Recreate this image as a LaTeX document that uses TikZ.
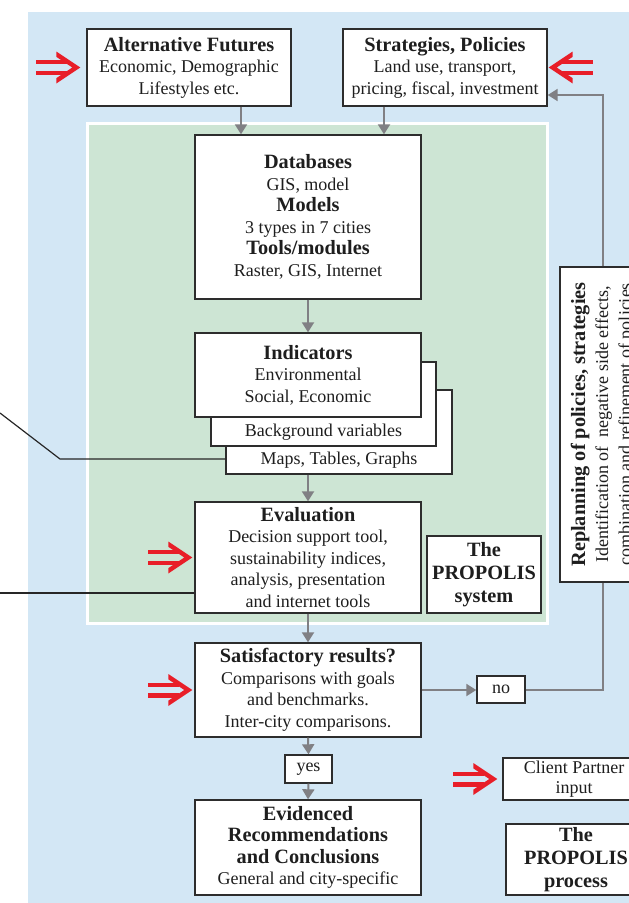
\documentclass[tikz,border=0pt]{standalone}
\usepackage{fontspec}
\setmainfont{Liberation Serif}
\usetikzlibrary{arrows.meta}
\definecolor{bluebg}{RGB}{211,231,245}
\definecolor{greenbg}{RGB}{205,229,212}
\definecolor{redar}{RGB}{232,30,40}
\definecolor{grayar}{RGB}{128,128,132}
\definecolor{boxline}{RGB}{45,45,45}
\definecolor{txt}{RGB}{30,30,30}
\newcommand\hd[1]{{\fontsize{20.3}{22}\selectfont\bfseries #1}}
\begin{document}
\begin{tikzpicture}[x=1pt,y=-1pt,
  box/.style={draw=boxline, line width=1.4pt, fill=white, inner sep=0pt, align=center,
    text=txt, font=\fontsize{18}{21.5}\selectfont},
  boldbox/.style={box, font=\fontsize{20.3}{23}\selectfont\bfseries},
  lbl/.style={inner sep=0pt, text=txt, font=\fontsize{18}{21.5}\selectfont},
  arr/.style={draw=grayar, line width=2pt, -{Triangle[width=12pt,length=10pt]}},
  conn/.style={draw=grayar, line width=2pt},
  blk/.style={draw=black!85, line width=1.2pt},
  redarrow/.pic={
    \fill[redar] (-44,-7.5) rectangle (-13,-3.2);
    \fill[redar] (-44,3.2) rectangle (-13,7.5);
    \fill[redar] (0,0) -- (-24,-16) -- (-24,-10.7) -- (-8,0) -- (-24,10.7) -- (-24,16) -- cycle;
  }
]
\path[use as bounding box] (0,0) rectangle (629,903);
\clip (0,0) rectangle (629,903);

% backgrounds
\fill[bluebg] (28,12) rectangle (660,920);
\filldraw[fill=greenbg, draw=white, line width=3pt] (87,123) rectangle (547,623);

% boxes
\node[box, minimum width=204pt, minimum height=77pt] (alt) at (189,67.5)
  {\hd{Alternative Futures}\\Economic, Demographic\\Lifestyles etc.};
\node[box, minimum width=204pt, minimum height=77pt] (strat) at (445,67.5)
  {\hd{Strategies, Policies}\\Land use, transport,\\pricing, fiscal, investment};
\node[box, minimum width=226pt, minimum height=164pt] (db) at (308,217)
  {\hd{Databases}\\GIS, model\\\hd{Models}\\3 types in 7 cities\\\hd{Tools/modules}\\Raster, GIS, Internet};

\node[box, minimum width=226pt, minimum height=84pt] (maps) at (339,432) {};
\node[lbl] (mapst) at (339,460) {Maps, Tables, Graphs};
\node[box, minimum width=225pt, minimum height=84pt] (bgv) at (323.5,404) {};
\node[lbl] (bgvt) at (323.5,432) {Background variables};
\node[box, minimum width=226pt, minimum height=84pt] (ind) at (308,375)
  {\hd{Indicators}\\Environmental\\Social, Economic};

\node[box, minimum width=226pt, minimum height=111pt] (eval) at (308,557.5)
  {\hd{Evaluation}\\Decision support tool,\\sustainability indices,\\analysis, presentation\\and internet tools};
\node[boldbox, minimum width=114pt, minimum height=77pt] (sys) at (484,574.5)
  {The\\PROPOLIS\\system};

\node[box, minimum width=226pt, minimum height=94pt] (sat) at (308,690)
  {\hd{Satisfactory results?}\\Comparisons with goals\\and benchmarks.\\Inter-city comparisons.};
\node[box, minimum width=48pt, minimum height=27pt] (no) at (501,689.5) {no};
\node[box, minimum width=47pt, minimum height=28pt] (yes) at (308.5,769) {yes};
\node[box, minimum width=226pt, minimum height=95pt] (evid) at (308,847.5)
  {\hd{Evidenced}\\\hd{Recommendations}\\\hd{and Conclusions}\\General and city-specific};

\node[box, minimum width=142pt, minimum height=42pt, font=\fontsize{18}{20}\selectfont] (client) at (574,779)
  {Client Partner\\input};
\node[boldbox, minimum width=140pt, minimum height=71pt] (proc) at (576,859.5)
  {The\\PROPOLIS\\process};

\node[box, rotate=90, minimum width=315pt, minimum height=86pt, font=\fontsize{18}{23}\selectfont] (replan) at (603,424.5)
  {{\fontsize{20.3}{23}\selectfont\bfseries Replanning of policies, strategies}\\Identification of\ \ negative side effects,\\combination and refinement of policies};

% connectors
\coordinate (a1) at ([xshift=-67pt]db.north);
\coordinate (a2) at ([xshift=76pt]db.north);
\draw[arr] (a1 |- alt.south) -- (a1);
\draw[arr] (a2 |- strat.south) -- (a2);
\draw[arr] (db.south) -- (ind.north);
\draw[arr] (eval.north |- maps.south) -- (eval.north);
\draw[arr] (eval.south) -- (sat.north);
\draw[arr] (sat.south) -- (yes.north);
\draw[arr] (yes.south) -- (evid.north);
\draw[arr] (sat.east) -- (sat.east -| no.west);
\draw[conn] (no.east) -| (replan.west);
\draw[arr] (replan.east) |- ([yshift=-27.5pt]strat.east);

% black lines from the left
\coordinate (lf1) at (0,413);
\coordinate (lk1) at (60,459);
\draw[blk] (lf1) -- (lk1) -- (maps.west |- lk1);
\coordinate (lf2) at (0,593);
\draw[blk] (lf2) -- (eval.west |- lf2);

% red input arrows
\pic at ([xshift=-6pt]alt.west) {redarrow};
\pic[rotate=180] at ([xshift=1pt]strat.east) {redarrow};
\pic at ([xshift=-2pt]eval.west) {redarrow};
\pic at ([xshift=-2pt]sat.west) {redarrow};
\pic at ([xshift=-5pt]client.west) {redarrow};
\end{tikzpicture}
\end{document}
